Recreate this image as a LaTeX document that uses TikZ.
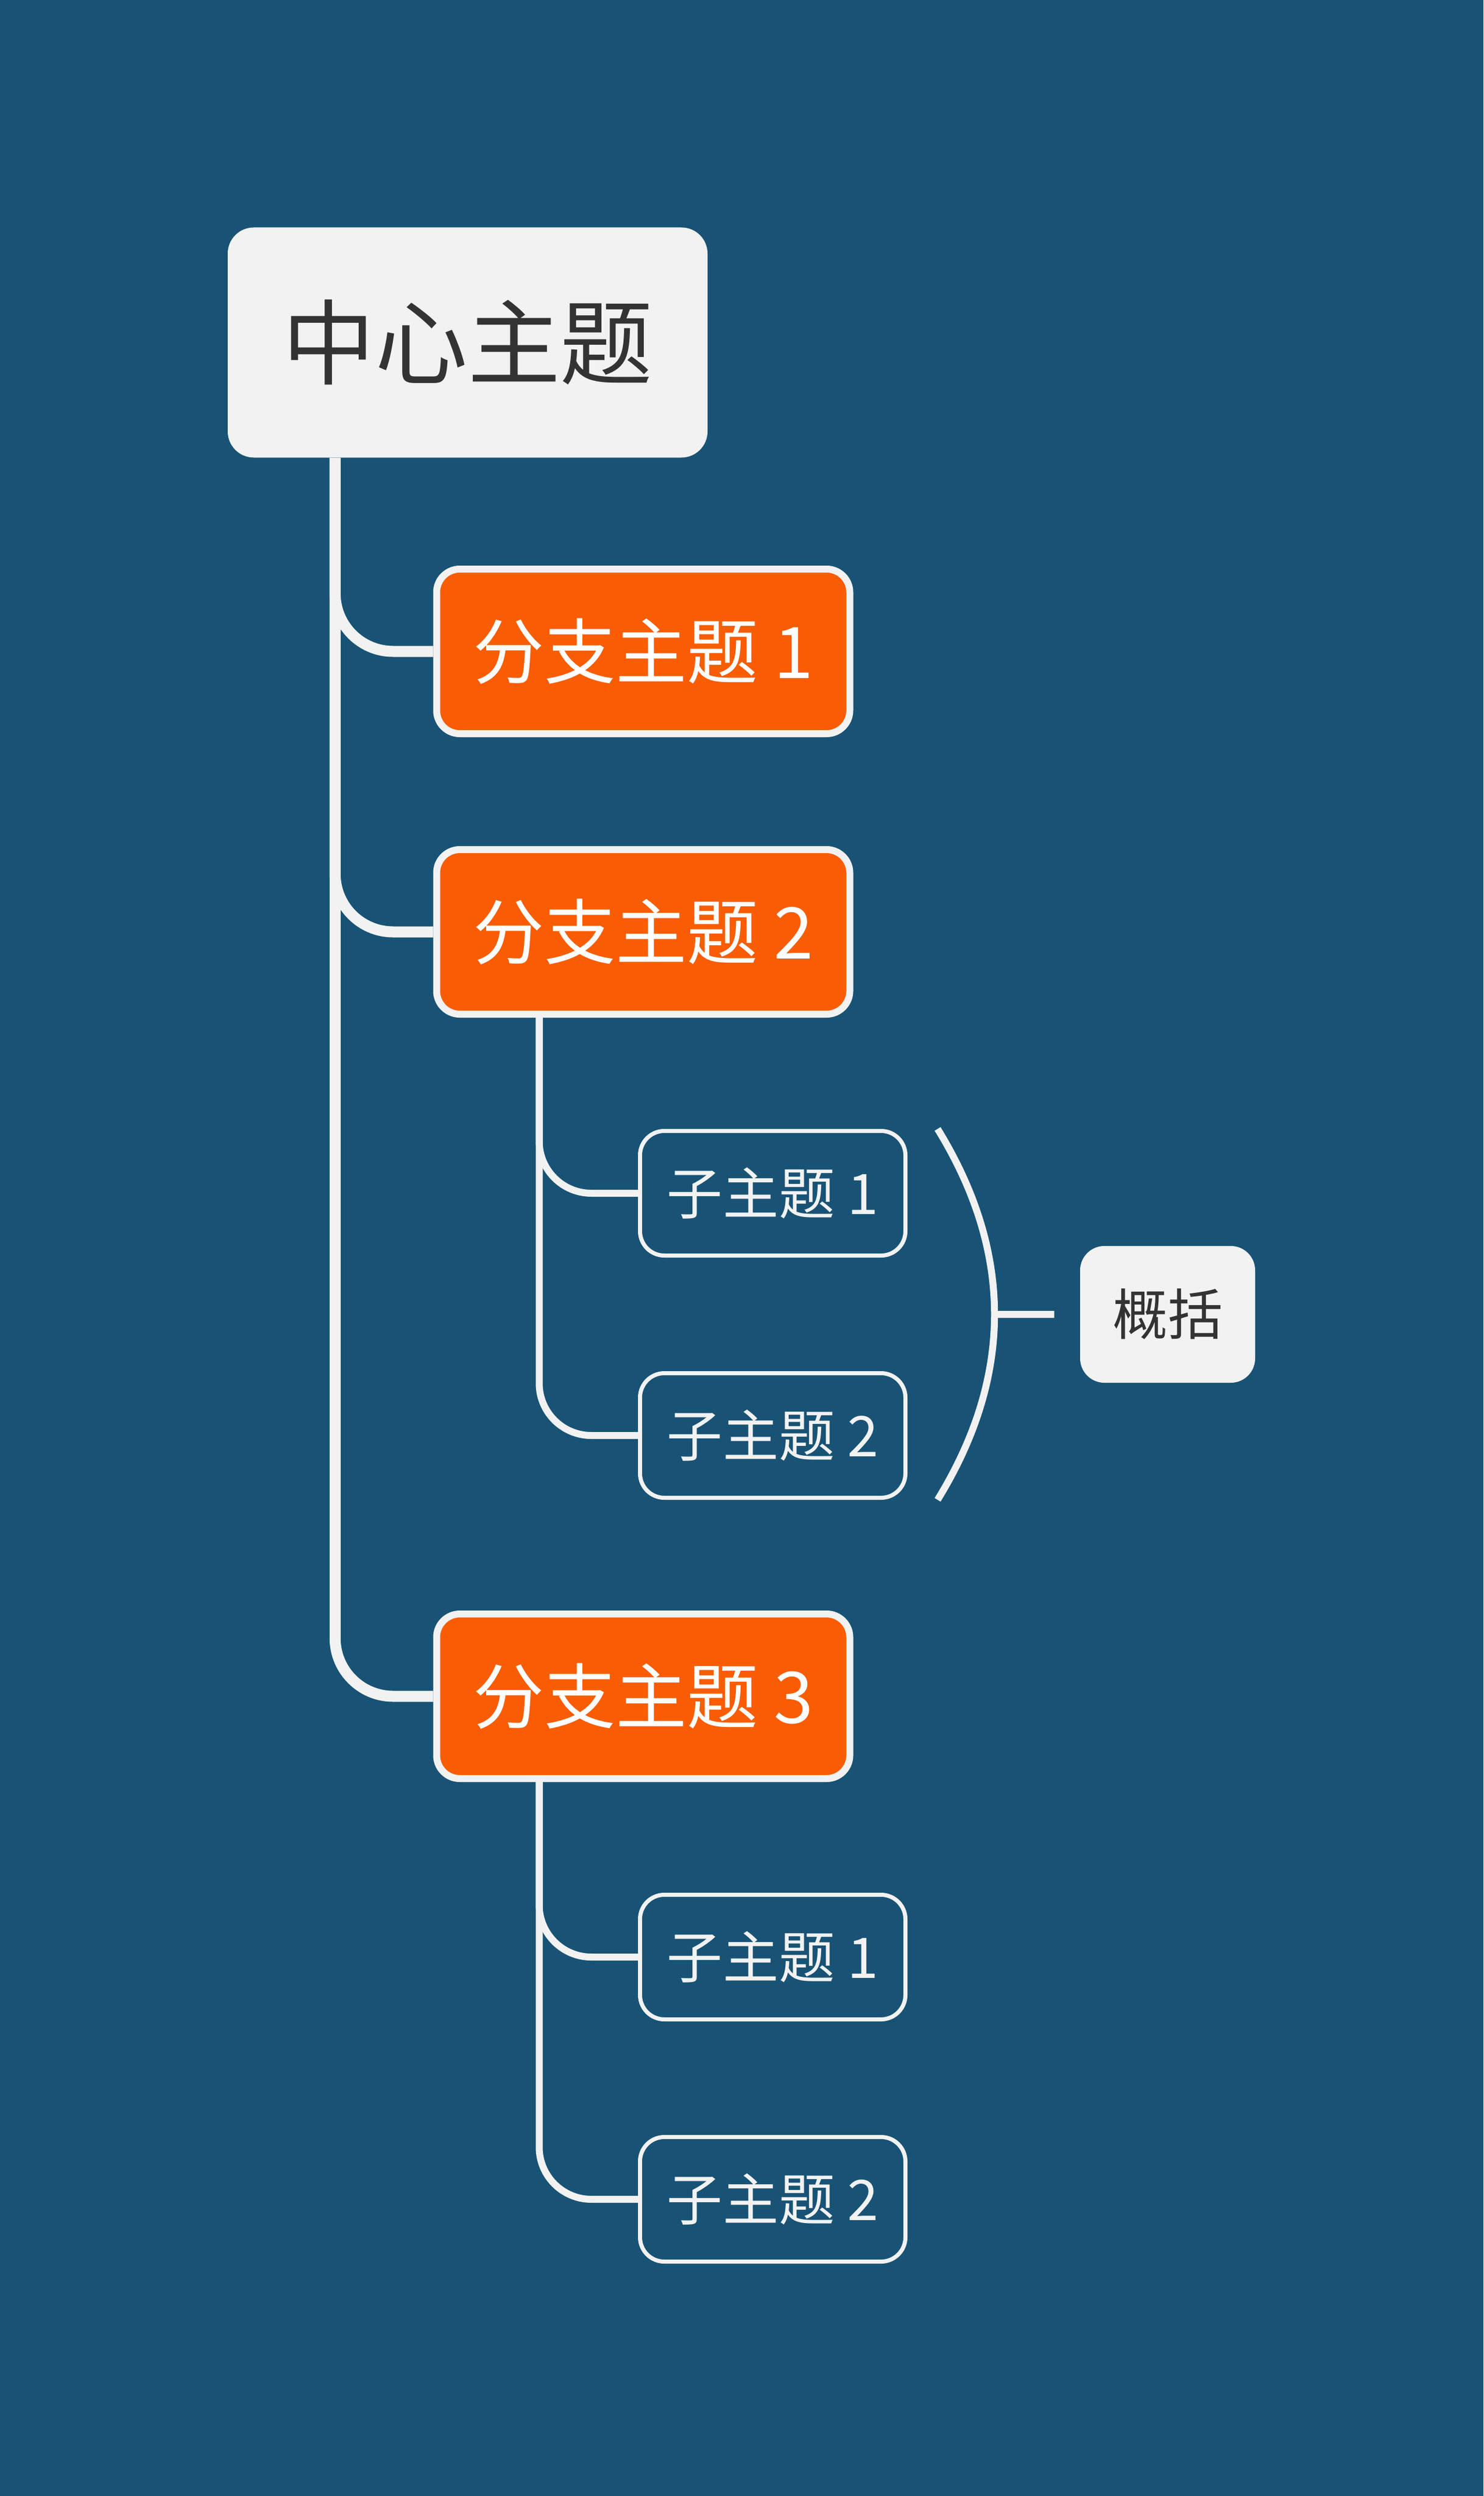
\documentclass[tikz,border=0pt]{standalone}
\usepackage{fontspec}
\setmainfont{Noto Sans CJK SC}
\usetikzlibrary{positioning,calc}
\definecolor{bgblue}{RGB}{24,83,117}
\definecolor{topicorange}{RGB}{249,93,3}
\definecolor{linegray}{HTML}{F2F2F2}
\definecolor{textdark}{HTML}{333333}

\begin{document}
\begin{tikzpicture}[
    central/.style={rectangle, rounded corners=0.45cm, fill=linegray, text=textdark, minimum width=8.28cm, minimum height=3.97cm, inner sep=0pt, font=\fontsize{45.5}{50}\selectfont},
    branch/.style={rectangle, rounded corners=0.4cm, fill=topicorange, draw=linegray, line width=0.12cm, text=white, minimum width=7.13cm, minimum height=2.84cm, inner sep=0pt, font=\fontsize{35}{40}\selectfont},
    subtopic/.style={rectangle, rounded corners=0.42cm, draw=linegray, line width=0.07cm, text=linegray, minimum width=4.58cm, minimum height=2.15cm, inner sep=0pt, font=\fontsize{27.5}{32}\selectfont},
    summary/.style={rectangle, rounded corners=0.42cm, fill=linegray, text=textdark, minimum width=3.02cm, minimum height=2.36cm, inner sep=0pt, font=\fontsize{27}{32}\selectfont},
    trunk/.style={draw=linegray, line width=0.19cm, rounded corners=1cm},
    twig/.style={draw=linegray, line width=0.12cm, rounded corners=0.9cm}
]

% Background
\fill[bgblue] (0,0) rectangle (25.6,-43.07);

% Topics
\node[central] (root) at (8.07,-5.91) {中心主题};
\node[branch] (b1) at (11.10,-11.24) {分支主题 1};
\node[branch] (b2) at (11.10,-16.08) {分支主题 2};
\node[branch] (b3) at (11.10,-29.27) {分支主题 3};

% Subtopics
\node[subtopic] (s21) at (13.335,-20.59) {子主题 1};
\node[subtopic, below=1.96cm of s21] (s22) {子主题 2};
\node[subtopic] (s31) at (13.335,-33.77) {子主题 1};
\node[subtopic, below=1.96cm of s31] (s32) {子主题 2};

% Summary
\node[summary] (sum) at (20.15,-22.68) {概括};

% Connectors
\draw[trunk] ([xshift=1.86cm]root.south west) |- (b1.west);
\draw[trunk] ([xshift=1.86cm]root.south west) |- (b2.west);
\draw[trunk] ([xshift=1.86cm]root.south west) |- (b3.west);
\draw[twig] ([xshift=1.83cm]b2.south west) |- (s21.west);
\draw[twig] ([xshift=1.83cm]b2.south west) |- (s22.west);
\draw[twig] ([xshift=1.83cm]b3.south west) |- (s31.west);
\draw[twig] ([xshift=1.83cm]b3.south west) |- (s32.west);

% Summary bracket
\coordinate (sumtop) at ([xshift=0.52cm]s21.north east);
\coordinate (sumbot) at ([xshift=0.52cm]s22.south east);
\coordinate (sumtip) at ($(sumtop)!0.5!(sumbot)+(0.98,0)$);
\draw[twig] (sumtop) .. controls +(1.31,-2.13) and +(1.31,2.13) .. (sumbot);
\draw[twig, shorten >=0.44cm] (sumtip) -- (sum.west);

\end{tikzpicture}
\end{document}
